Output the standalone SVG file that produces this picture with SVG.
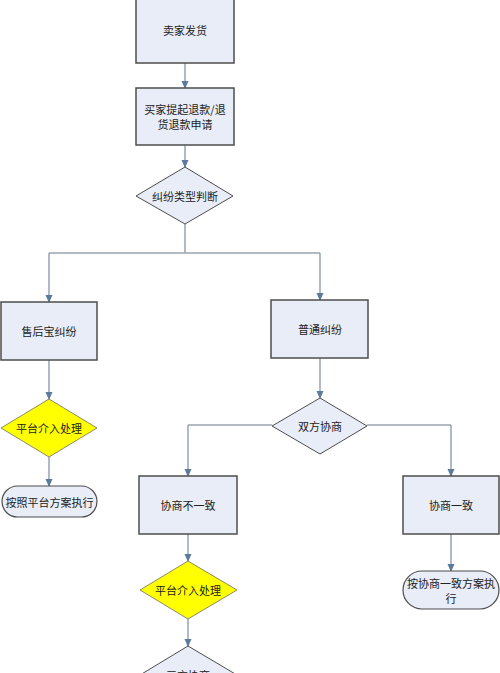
<svg xmlns="http://www.w3.org/2000/svg" width="500" height="673" viewBox="0 0 500 673">
<defs>
<style>
.box{fill:#e9edf7;stroke:#4d4d4d;stroke-width:1.5}
.dia{fill:#e9edf7;stroke:#4d4d4d;stroke-width:1}
.yel{fill:#ffff00;stroke:#8a8a6a;stroke-width:1}
.term{fill:#e9edf7;stroke:#4d4d4d;stroke-width:1.2}
.t{font-family:"Noto Sans CJK SC","Liberation Sans",sans-serif;font-size:11px;fill:#222;text-anchor:middle;dominant-baseline:central}
.c{fill:none;stroke:#8496ab;stroke-width:1.3}
.h{fill:none;stroke:#9aa3ad;stroke-width:1.3}
</style>
<marker id="a" markerWidth="8" markerHeight="8" refX="7" refY="4" orient="auto" markerUnits="userSpaceOnUse">
<path d="M0,0.5 L8,4 L0,7.5 Z" fill="#5b7a9c"/>
</marker>
</defs>
<rect width="500" height="673" fill="#ffffff"/>
<g id="connectors">
<path class="c" d="M185,63 V88" marker-end="url(#a)"/>
<path class="c" d="M185,145 V167" marker-end="url(#a)"/>
<path class="c" d="M185,224 V253"/>
<path class="h" d="M49,253 H320"/>
<path class="c" d="M49,253 V302" marker-end="url(#a)"/>
<path class="c" d="M320,253 V300" marker-end="url(#a)"/>
<path class="c" d="M49,360 V399" marker-end="url(#a)"/>
<path class="c" d="M49,457 V486" marker-end="url(#a)"/>
<path class="c" d="M320,358 V398" marker-end="url(#a)"/>
<path class="h" d="M272,425 H188"/>
<path class="c" d="M188,425 V476" marker-end="url(#a)"/>
<path class="h" d="M367,425 H451"/>
<path class="c" d="M451,425 V476" marker-end="url(#a)"/>
<path class="c" d="M451,534 V571" marker-end="url(#a)"/>
<path class="c" d="M188,534 V561" marker-end="url(#a)"/>
<path class="c" d="M188,619 V646" marker-end="url(#a)"/>
</g>
<g id="n1"><rect class="box" x="136" y="-2" width="98" height="65"/><text class="t" x="185" y="30">卖家发货</text></g>
<g id="n2"><rect class="box" x="136" y="88" width="98" height="57"/><text class="t" x="185" y="109">买家提起退款/退</text><text class="t" x="185" y="124">货退款申请</text></g>
<g id="n3"><polygon class="dia" points="185,167 233,196 185,224 136,196"/><text class="t" x="185" y="196">纠纷类型判断</text></g>
<g id="n4"><rect class="box" x="1" y="302" width="96" height="58"/><text class="t" x="49" y="331">售后宝纠纷</text></g>
<g id="n5"><rect class="box" x="271" y="300" width="97" height="58"/><text class="t" x="320" y="329">普通纠纷</text></g>
<g id="n6"><polygon class="yel" points="49,399 97,428 49,457 1,428"/><text class="t" x="49" y="428">平台介入处理</text></g>
<g id="n7"><rect class="term" x="2" y="486" width="95" height="31" rx="15.5"/><text class="t" x="49.5" y="502">按照平台方案执行</text></g>
<g id="n8"><polygon class="dia" points="320,398 367,426 320,454 272,426"/><text class="t" x="320" y="426">双方协商</text></g>
<g id="n9"><rect class="box" x="139" y="476" width="98" height="58"/><text class="t" x="188" y="505">协商不一致</text></g>
<g id="n10"><rect class="box" x="403" y="476" width="96" height="58"/><text class="t" x="451" y="505">协商一致</text></g>
<g id="n11"><rect class="term" x="403" y="571" width="96" height="38" rx="19"/><text class="t" x="451" y="583">按协商一致方案执</text><text class="t" x="451" y="598">行</text></g>
<g id="n12"><polygon class="yel" points="188,561 237,590 188,619 140,590"/><text class="t" x="188" y="590">平台介入处理</text></g>
<g id="n13"><polygon class="dia" points="188,646 237,675 188,704 140,675"/><text class="t" x="188" y="675">三方协商</text></g>
</svg>
